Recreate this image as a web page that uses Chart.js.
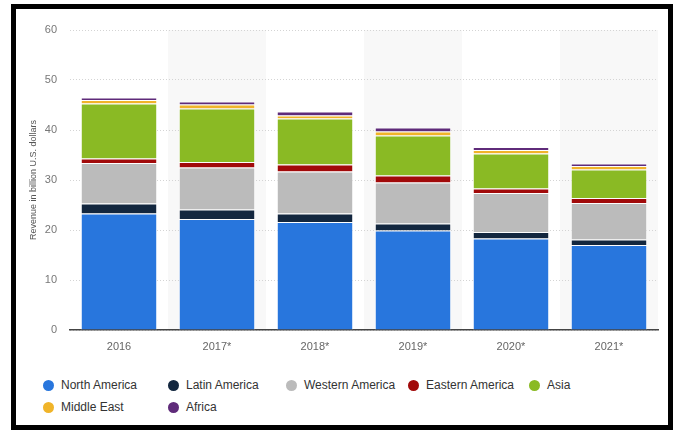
<!DOCTYPE html>
<html>
<head>
<meta charset="utf-8">
<script src="https://cdn.jsdelivr.net/npm/chart.js@4/dist/chart.umd.min.js"></script>
<style>
  body { margin: 0; width: 678px; height: 430px; background: #fff; position: relative; overflow: hidden; font-family: "Liberation Sans", Arial, sans-serif; }
  #wrap { position: absolute; left: 0; top: 0; width: 678px; height: 370px; }
  .frame { position: absolute; left: 11px; top: 4px; width: 662px; height: 426px; border: 5px solid #000; box-sizing: border-box; pointer-events: none; }
  .leg { position: absolute; font-size: 12px; color: #333; line-height: 14px; white-space: nowrap; }
  .leg i { position: absolute; left: -18px; top: 2px; width: 11px; height: 11px; border-radius: 50%; }
</style>
</head>
<body>
<div id="wrap"><canvas id="revenueChart"></canvas></div>
<div id="legend"></div>
<div class="frame"></div>
<script>
const years = ["2016", "2017*", "2018*", "2019*", "2020*", "2021*"];
const northAmerica = [23.3, 22.2, 21.6, 19.9, 18.3, 17.0];
const latinAmerica = [2.0, 1.9, 1.7, 1.4, 1.3, 1.1];
const westernAmerica = [8.1, 8.4, 8.4, 8.2, 7.8, 7.3];
const easternAmerica = [0.9, 1.1, 1.4, 1.4, 0.9, 1.0];
const asia = [11.0, 10.7, 9.2, 8.0, 7.0, 5.7];
const middleEast = [0.7, 0.8, 0.6, 0.8, 0.7, 0.7];
const africa = [0.5, 0.6, 0.8, 0.8, 0.6, 0.5];
const yTicks = [0, 10, 20, 30, 40, 50, 60];

const series = [
  { label: "North America", data: northAmerica, color: "#2876dd" },
  { label: "Latin America", data: latinAmerica, color: "#13273f" },
  { label: "Western America", data: westernAmerica, color: "#bbbbbb" },
  { label: "Eastern America", data: easternAmerica, color: "#a10a0a" },
  { label: "Asia", data: asia, color: "#8aba24" },
  { label: "Middle East", data: middleEast, color: "#f0b429" },
  { label: "Africa", data: africa, color: "#5f2b7a" },
];

// shaded band behind every second column (drawn before grid and axis line)
const bands = {
  id: "bands",
  beforeDraw(chart) {
    const { ctx, chartArea, scales } = chart;
    const w = (chartArea.right - chartArea.left) / years.length;
    ctx.save();
    ctx.fillStyle = "#f8f8f8";
    years.forEach((y, i) => {
      if (i % 2 === 1) {
        const cx = scales.x.getPixelForValue(i);
        ctx.fillRect(cx - w / 2, chartArea.top, w, chartArea.bottom - chartArea.top);
      }
    });
    ctx.restore();
  },
};

const ctx = document.getElementById("revenueChart");
// eslint-disable-next-line no-unused-vars
const myChart = new Chart(ctx, {
  type: "bar",
  data: {
    labels: years,
    datasets: series.map((s) => ({
      label: s.label,
      data: s.data,
      backgroundColor: s.color,
      borderColor: "rgba(255,255,255,0.7)",
      borderWidth: 1,
      categoryPercentage: 1,
      barPercentage: 0.78,
    })),
  },
  options: {
    responsive: true,
    maintainAspectRatio: false,
    animation: false,
    layout: { padding: { left: 0, right: 20, top: 30, bottom: 0 } },
    plugins: { legend: { display: false }, tooltip: { enabled: false } },
    scales: {
      x: {
        stacked: true,
        grid: { display: false, drawTicks: false },
        border: { display: true, color: "#444", width: 1.5 },
        ticks: { color: "#666", padding: 10, font: { family: "Liberation Sans", size: 11 } },
        afterFit(scale) { scale.height = 40; },
      },
      y: {
        stacked: true,
        min: 0,
        max: 60,
        afterBuildTicks(scale) { scale.ticks = yTicks.map((v) => ({ value: v })); },
        grid: { color: "#d4d4d4", drawTicks: false },
        border: { display: false, dash: [1, 2] },
        ticks: { color: "#777", padding: 13, font: { family: "Liberation Sans", size: 11 } },
        title: {
          display: true,
          text: "Revenue in billion U.S. dollars",
          color: "#555",
          font: { family: "Liberation Sans", size: 9 },
          padding: { top: 28, bottom: 0 },
        },
        afterFit(scale) { scale.width = 70; },
      },
    },
  },
  plugins: [bands],
});

// legend laid out like the reference
const legendPos = [
  [61, 378], [186, 378], [304, 378], [426, 378], [547, 378],
  [61, 400], [186, 400],
];
const legend = document.getElementById("legend");
series.forEach((s, i) => {
  const d = document.createElement("div");
  d.className = "leg";
  d.style.left = legendPos[i][0] + "px";
  d.style.top = legendPos[i][1] + "px";
  d.innerHTML = '<i style="background:' + s.color + '"></i>' + s.label;
  legend.appendChild(d);
});
</script>
</body>
</html>
